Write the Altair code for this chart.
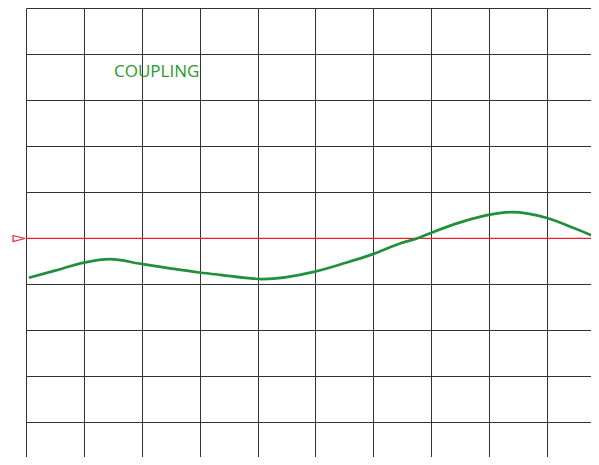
import altair as alt
import pandas as pd

# Green trace, in screen divisions (x: 0..10, y: -5..5, 0 = reference level)
trace_x = [0.05, 0.5, 1.0, 1.45, 1.99, 2.49, 3.0, 3.35, 4.08, 4.99, 5.49, 5.99, 6.46, 6.75, 6.99, 7.5, 8.01, 8.39, 9.0, 9.48, 9.9]
trace_y = [-0.855, -0.70, -0.525, -0.45, -0.553, -0.65, -0.74, -0.79, -0.883, -0.72, -0.54, -0.34, -0.108, 0.0, 0.12, 0.35, 0.517, 0.573, 0.444, 0.215, 0.0]

grid_x = list(range(0, 10))
grid_y = list(range(-4, 6))

label_text = ["COUPLING"]
label_x = [1.52]
label_y = [3.5]

ref_level = [0.0]
marker_x = [-0.12]

trace = pd.DataFrame({"x": trace_x, "y": trace_y})
labels = pd.DataFrame({"x": label_x, "y": label_y, "t": label_text})
marker = pd.DataFrame({"x": marker_x, "y": ref_level})
ref = pd.DataFrame({"y": ref_level})

W = 565
H = 449
xs = alt.Scale(domain=[0, W / 57.9], nice=False, zero=False)
ys = alt.Scale(domain=[5 - H / 46.05, 5.01], nice=False, zero=False)
xaxis = alt.Axis(values=grid_x, grid=True, labels=False, ticks=False, domain=False, title=None,
                 gridColor="#333333", gridWidth=1, gridOpacity=1)
yaxis = alt.Axis(values=grid_y, grid=True, labels=False, ticks=False, domain=False, title=None,
                 gridColor="#333333", gridWidth=1, gridOpacity=1)

base_line = alt.Chart(trace).mark_line(color="#22903a", strokeWidth=2.7, interpolate="monotone",
                                       clip=True).encode(
    x=alt.X("x:Q", scale=xs, axis=xaxis),
    y=alt.Y("y:Q", scale=ys, axis=yaxis),
)

rule = alt.Chart(ref).mark_rule(color="#f0202a", strokeWidth=1.3).encode(
    y=alt.Y("y:Q", scale=ys)
)

text = alt.Chart(labels).mark_text(color="#2a9a2a", font="Open Sans", fontSize=17, align="left",
                                   baseline="alphabetic").encode(
    x=alt.X("x:Q", scale=xs), y=alt.Y("y:Q", scale=ys), text="t:N"
)

tri = alt.Chart(marker).mark_point(shape="M-1,-0.5L1,0L-1,0.5Z", filled=False, color="#f0202a",
                                   strokeWidth=1.2, size=144, opacity=1).encode(
    x=alt.X("x:Q", scale=xs), y=alt.Y("y:Q", scale=ys)
)

chart = alt.layer(rule, base_line, text, tri).properties(
    width=W, height=H,
    padding={"left": 18, "top": 0, "right": 0, "bottom": 0},
    autosize=alt.AutoSizeParams(type="none"),
).configure_view(stroke=None)

chart.save("out.html", embed_options={"renderer": "svg", "actions": False})
